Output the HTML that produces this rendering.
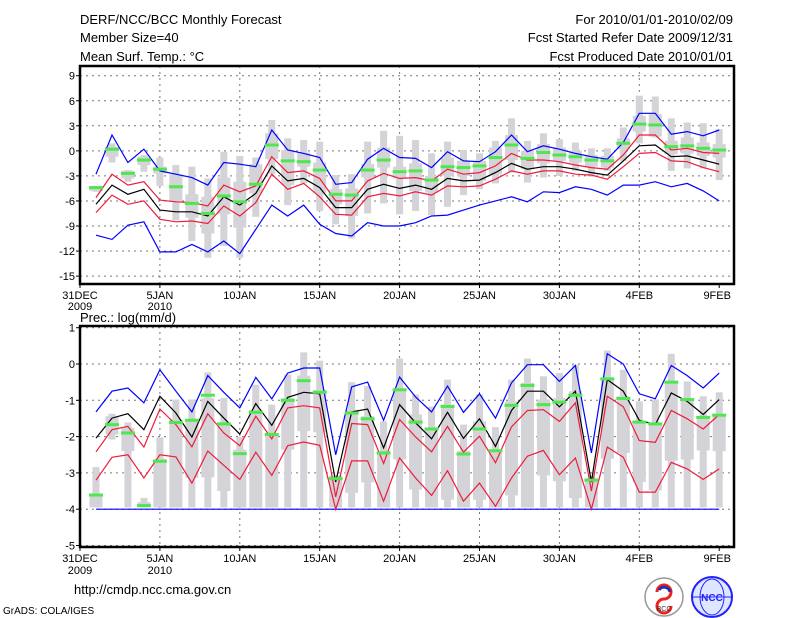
<!DOCTYPE html>
<html><head><meta charset="utf-8">
<style>
html,body{margin:0;padding:0;background:#fff;}
svg{display:block;font-family:"Liberation Sans",sans-serif;}
</style></head>
<body>
<svg id="chart" width="800" height="618" viewBox="0 0 800 618" xmlns="http://www.w3.org/2000/svg">
<rect x="0" y="0" width="800" height="618" fill="#fff"/>
<g font-size="13" fill="#000">
<text x="80" y="24">DERF/NCC/BCC Monthly Forecast</text>
<text x="80" y="42">Member Size=40</text>
<text x="80" y="61">Mean Surf. Temp.: °C</text>
<text x="733" y="24" text-anchor="end">For 2010/01/01-2010/02/09</text>
<text x="733" y="42" text-anchor="end">Fcst Started Refer Date 2009/12/31</text>
<text x="733" y="61" text-anchor="end">Fcst Produced Date 2010/01/01</text>
<text x="80" y="322">Prec.: log(mm/d)</text>
<text x="74" y="594">http://cmdp.ncc.cma.gov.cn</text>
<text x="3" y="614" font-size="10">GrADS: COLA/IGES</text>
</g>
<g id="top"></g>
<g id="bot"></g>
<g>
<circle cx="664" cy="597" r="19" fill="#fff" stroke="#999" stroke-width="1.5"/>
<path d="M657 592 a7 7 0 1 1 7 7 a7 7 0 1 0 7 7" fill="none" stroke="#e22" stroke-width="3"/>
<path d="M659 590 a6 6 0 0 1 11 2" fill="none" stroke="#23a" stroke-width="3"/>
<text x="664" y="611" font-size="7" text-anchor="middle" fill="#333">BCC</text>
</g>
<g>
<circle cx="712" cy="597" r="20" fill="#dfe6ff" stroke="#22f" stroke-width="2"/>
<ellipse cx="712" cy="597" rx="12" ry="18" fill="none" stroke="#22f"/>
<line x1="693" y1="597" x2="731" y2="597" stroke="#22f"/>
<text x="712" y="601" font-size="10" font-weight="bold" text-anchor="middle" fill="#22f">NCC</text>
</g>
</svg>
<script>
// ---- Temperature panel data (Jan1..Feb9) ----
const tBlueHi=[-2.8,1.9,-1.4,0.2,-2.4,-2.8,-3.2,-4.1,-1.4,-1.6,-1.9,2.5,0.1,-0.3,-0.8,-4,-3.8,-1,0.3,-0.8,-0.9,-2,-0.1,-1.2,-1.3,-0.1,1.9,-0.1,0.6,0.2,-0.3,-0.7,-1,1,4.5,4.5,2,2.3,1.8,2.5];
const tRedHi=[-5.6,-2.8,-4.1,-3.7,-5.9,-6.1,-6.2,-6.6,-4.1,-4.9,-4.2,-0.7,-2.6,-2.4,-3.3,-6,-6,-3.6,-2.7,-3.3,-3.2,-3.6,-2.2,-2.8,-2.6,-1.8,-0.3,-1.1,-1.1,-1.3,-1.7,-2,-2.2,-0.5,1.9,1.9,0.1,0.3,-0.2,-0.3];
const tMean=[-6.4,-4.1,-5.2,-4.6,-7.1,-7.3,-7.3,-7.8,-5.5,-6.5,-5.1,-1.8,-3.6,-3.3,-4.4,-6.8,-6.8,-4.6,-4,-4.5,-4.1,-4.6,-3.3,-3.6,-3.5,-2.6,-1.5,-2.2,-1.9,-1.9,-2.2,-2.6,-2.9,-1.2,0.6,0.7,-0.7,-0.6,-1.1,-1.6];
const tRedLo=[-7.4,-5.3,-6.4,-6,-8.2,-8.5,-8.4,-8.7,-6.6,-7.8,-6.2,-2.8,-4.6,-3.9,-5.5,-7.6,-7.7,-5.5,-5.1,-5.4,-4.9,-5.3,-4.2,-4.3,-4.2,-3.4,-2.4,-2.8,-2.4,-2.4,-2.8,-2.9,-3.4,-1.9,-0.3,-0.2,-1.2,-1.3,-2,-2.5];
const tBlueLo=[-10.1,-10.6,-8.9,-8.5,-12.1,-12.1,-11.2,-12.1,-10.8,-12.3,-9.4,-6.5,-7.8,-6.5,-8.8,-9.9,-10.2,-8.6,-9,-9,-8.6,-7.8,-7.7,-7.1,-6.5,-6,-5.5,-6.1,-4.9,-5,-4.3,-4.6,-5.3,-4.1,-4.1,-3.7,-4.3,-3.9,-4.8,-6];
const tGreen=[-4.4,0.2,-2.7,-1.1,-2.2,-4.3,-6.3,-7.5,-5.4,-6.1,-4,0.7,-1.2,-1.3,-2.3,-5.2,-5.3,-2.3,-1.1,-2.5,-2.4,-3.5,-1.9,-2,-1.8,-0.8,0.7,-0.9,-0.2,-0.5,-0.7,-1.1,-1.2,0.9,3.2,3.1,0.5,0.6,0.3,0.1];
const tMax=[-4.2,0.9,-2.3,-0.5,-0.8,-1.7,-1.9,-3.3,-0.1,-0.6,-0.8,3.7,1.5,1.3,1.1,-2.9,-2.8,1.1,2.4,1.8,1.3,-0.3,1.1,0.1,-0.3,1.2,3.9,1.2,2.1,1.4,1,0.3,0.3,2.8,6.6,6.5,3.9,3.4,3.3,2.6];
const tMin=[-4.9,-1.4,-3.7,-2.5,-4.2,-8.3,-10.8,-12.8,-11.4,-12.8,-7.9,-2.8,-6.5,-3.9,-7.2,-8.8,-10.5,-7.5,-6.3,-7.6,-7.2,-7.7,-6.7,-5.3,-4.6,-3.9,-2.6,-3.8,-3.2,-3,-2.4,-3.1,-2.4,-1.2,0.9,1.6,-2.4,-2.1,-2.1,-3.5];
const tQ3=[-4.3,0.5,-2.4,-0.7,-1.9,-2.8,-5.2,-5.5,-3.2,-3.7,-1.6,2.1,0.1,-0.2,-1.4,-4.6,-4.5,-1.6,0.4,-1.9,-1.5,-3,-0.8,-1.2,-1.2,0.4,1.9,0,0.8,0.4,0,-0.5,-0.6,1.5,4.2,4.4,1.2,1.6,1,0.8];
const tQ1=[-4.8,-0.7,-3.3,-1.7,-2.7,-6,-8,-9.9,-7.6,-9.2,-5.1,-1,-4.1,-1.9,-5,-6.4,-7.8,-3.2,-2,-3.3,-4.8,-5,-3,-3,-3.6,-2.8,-1.1,-2.2,-1.5,-1.2,-1.4,-1.9,-2,0.2,2.3,1.7,-0.4,-0.3,-0.6,-0.8];
const tTicks=[9,6,3,0,-3,-6,-9,-12,-15];
// ---- Precipitation panel data ----
const pBlueHi=[-1.32,-0.75,-0.66,-1.07,-0.16,-0.75,-1.32,-0.32,-0.78,-1.21,-0.37,-0.96,-0.25,-0.11,-0.11,-2.5,-0.63,-0.5,-1.55,-0.36,-0.91,-1.32,-0.61,-1.33,-0.82,-1.49,-0.52,-0.02,-0.02,-0.48,-0.04,-2.45,0.28,0,-0.82,-0.96,-0.04,-0.32,-0.66,-0.25];
const pRedHi=[-2.42,-1.81,-1.72,-2.29,-1.24,-1.67,-2.28,-1.37,-1.9,-2.25,-1.44,-2.06,-1.21,-1.15,-1.21,-3.66,-1.64,-1.67,-2.74,-1.53,-2.01,-2.42,-1.72,-2.43,-1.99,-2.72,-1.73,-1.28,-1.26,-1.58,-1.07,-3.5,-0.89,-1.18,-2.11,-2.16,-1.28,-1.51,-1.79,-1.39];
const pMean=[-2.04,-1.49,-1.37,-1.81,-0.89,-1.35,-2.01,-1.03,-1.49,-1.93,-1.09,-1.69,-0.92,-0.78,-0.82,-3.25,-1.32,-1.24,-2.31,-1.12,-1.62,-2.06,-1.33,-2.05,-1.51,-2.27,-1.28,-0.75,-0.75,-1.18,-0.75,-3.25,-0.43,-0.75,-1.55,-1.67,-0.8,-1.03,-1.39,-0.98];
const pRedLo=[-3.2,-2.57,-2.5,-3.14,-2.5,-2.56,-3.28,-2.4,-2.79,-3.18,-2.43,-3.07,-2.25,-2.15,-2.24,-4,-2.67,-2.67,-3.78,-2.59,-3.14,-3.62,-2.94,-3.78,-3.28,-3.92,-3.14,-2.54,-2.38,-3.05,-2.59,-4,-2.29,-2.57,-3.53,-3.53,-2.71,-2.89,-3.18,-2.89];
const pBlueLo=[-4,-4,-4,-4,-4,-4,-4,-4,-4,-4,-4,-4,-4,-4,-4,-4,-4,-4,-4,-4,-4,-4,-4,-4,-4,-4,-4,-4,-4,-4,-4,-4,-4,-4,-4,-4,-4,-4,-4,-4];
const pGreen=[-3.61,-1.67,-1.9,-3.9,-2.68,-1.61,-1.55,-0.86,-1.65,-2.47,-1.33,-1.94,-1,-0.46,-0.78,-3.16,-1.35,-1.51,-2.45,-0.71,-1.6,-1.79,-1.17,-2.48,-1.79,-2.39,-1.14,-0.59,-1.12,-1.05,-0.86,-3.2,-0.41,-0.95,-1.6,-1.65,-0.5,-0.98,-1.47,-1.41];
const pMax=[-2.84,-1.37,-1.61,-3.69,-2.02,-0.98,-0.98,-0.23,-0.94,-2.01,-0.57,-1.12,-0.29,0.32,0.09,-3.07,-0.5,-0.61,-1.58,0.15,-0.84,-1.17,-0.43,-1.67,-0.84,-1.74,-0.43,0.15,-0.34,-0.25,-0.02,-3.09,0.37,-0.16,-1.03,-0.98,0.28,-0.48,-0.89,-0.78];
const pMin=[-3.95,-2.08,-3.95,-3.95,-3.95,-3.95,-3.95,-3.95,-3.95,-3.95,-3.95,-3.95,-3.95,-3.95,-3.95,-3.95,-3.95,-3.95,-3.95,-3.95,-3.95,-3.95,-3.95,-3.95,-3.95,-3.95,-3.95,-3.95,-3.95,-3.95,-3.95,-3.95,-3.95,-3.95,-3.95,-3.95,-3.95,-3.95,-3.95,-3.95];
const pQ3=[-3.6,-1.44,-1.76,-3.81,-2.61,-1.53,-1.53,-0.94,-1.62,-2.36,-1.26,-1.9,-0.94,-0.32,-0.71,-3.07,-1.26,-1.44,-2.4,-0.71,-1.39,-1.76,-1.12,-2.4,-1.58,-2.39,-1.03,-0.52,-0.98,-0.94,-0.75,-3.15,-0.39,-0.89,-1.62,-1.62,-0.48,-0.98,-1.49,-1.37];
const pQ1=[-3.95,-1.94,-2.4,-3.95,-3.95,-3.95,-3.14,-3.12,-3.5,-3.95,-3.95,-3.95,-2.36,-1.85,-1.88,-3.95,-3.55,-3.26,-3.95,-2.63,-3.46,-3.95,-3.74,-3.95,-3.74,-3.95,-3.62,-3.95,-3.07,-3.23,-3.69,-3.95,-2.61,-2.45,-3.25,-3.48,-2.66,-2.63,-2.38,-2.4];
const pTicks=[1,0,-1,-2,-3,-4,-5];
// ---- X axis ----
const xTickDays=[0,5,10,15,20,25,30,35,40];
const xTickLabels=["31DEC","5JAN","10JAN","15JAN","20JAN","25JAN","30JAN","4FEB","9FEB"];

const NS="http://www.w3.org/2000/svg";
const X0=80, DAY=15.98, XR=734;
function xDay(d){return X0+d*DAY;}
function mk(tag,attrs,parent){const e=document.createElementNS(NS,tag);for(const k in attrs)e.setAttribute(k,attrs[k]);parent.appendChild(e);return e;}

function panel(g,top,bot,vTop,yTopPix,pxPerUnit,ticks,series,gray,green,showYear,prefix){
  const yv=v=>yTopPix+(vTop-v)*pxPerUnit;
  // grid
  ticks.forEach(t=>{const l=mk('line',{x1:X0,x2:XR,y1:yv(t),y2:yv(t),stroke:'#777','stroke-dasharray':'2,4','stroke-width':1},g);
    
    
    const tx=mk('text',{x:75,y:yv(t)+4,'font-size':11,'text-anchor':'end'},g);tx.textContent=t;
    
    
    mk('line',{x1:X0-4,x2:X0,y1:yv(t),y2:yv(t),stroke:'#000'},g);});
  xTickDays.forEach((d,i)=>{const x=xDay(d);
    if(i>0&&i<xTickDays.length-1){const l=mk('line',{x1:x,x2:x,y1:top,y2:bot,stroke:'#777','stroke-dasharray':'2,4'},g);
      
      }
    mk('line',{x1:x,x2:x,y1:bot,y2:bot+4,stroke:'#000'},g);
    const tx=mk('text',{x:i==xTickDays.length-1?x-2:x,y:bot+15,'font-size':11,'text-anchor':'middle'},g);tx.textContent=xTickLabels[i];
    
    });
  if(showYear){[[0,"2009"],[5,"2010"]].forEach(a=>{const tx=mk('text',{x:xDay(a[0]),y:bot+27,'font-size':11,'text-anchor':'middle'},g);tx.textContent=a[1];
    
    });}
  // gray boxes
  for(let i=0;i<gray.max.length;i++){const x=xDay(i+1);
    const w=mk('rect',{x:x-3.5,width:7,y:yv(gray.max[i]),height:Math.max(1,yv(gray.min[i])-yv(gray.max[i])),fill:'#d3d3d8'},g);
    
    
    const b=mk('rect',{x:x-6.5,width:13,y:yv(gray.q3[i]),height:Math.max(1,yv(gray.q1[i])-yv(gray.q3[i])),fill:'#d3d3d8'},g);
    
    }
  // lines
  series.forEach(s=>{const pts=s.data.map((v,i)=>xDay(i+1).toFixed(1)+','+yv(v).toFixed(1)).join(' ');
    const p=mk('polyline',{points:pts,fill:'none',stroke:s.color,'stroke-width':1.2},g);
    
    });
  // green markers
  green.forEach((v,i)=>{const r=mk('rect',{x:xDay(i+1)-7,y:yv(v)-1.5,width:14,height:3,fill:'#4ee84e'},g);
    
    });
  const f=mk('rect',{x:X0,y:top,width:XR-X0,height:bot-top,fill:'none',stroke:'#000','stroke-width':2.5},g);
  
  
}
panel(document.getElementById('top'),66,284,9,75.7,8.35,tTicks,
 [{data:tBlueLo,color:'#0000ff',name:'temp-blue-lower-line'},{data:tBlueHi,color:'#0000ff',name:'temp-blue-upper-line'},
  {data:tRedLo,color:'#ee1c3c',name:'temp-red-lower-line'},{data:tRedHi,color:'#ee1c3c',name:'temp-red-upper-line'},
  {data:tMean,color:'#000',name:'temp-ensemble-mean-line'}],
 {max:tMax,min:tMin,q3:tQ3,q1:tQ1},tGreen,false,'temp');
panel(document.getElementById('bot'),326,547,1,327.7,36.3,pTicks,
 [{data:pBlueLo,color:'#0000ff',name:'prec-blue-lower-line'},{data:pBlueHi,color:'#0000ff',name:'prec-blue-upper-line'},
  {data:pRedLo,color:'#ee1c3c',name:'prec-red-lower-line'},{data:pRedHi,color:'#ee1c3c',name:'prec-red-upper-line'},
  {data:pMean,color:'#000',name:'prec-ensemble-mean-line'}],
 {max:pMax,min:pMin,q3:pQ3,q1:pQ1},pGreen,true,'prec');
// year labels for top panel
[[0,"2009"],[5,"2010"]].forEach(a=>{const t=document.createElementNS(NS,'text');t.setAttribute('x',xDay(a[0]));t.setAttribute('y',310);t.setAttribute('font-size',11);t.setAttribute('text-anchor','middle');t.textContent=a[1];
 
 
 document.getElementById('top').appendChild(t);});
</script>
</body></html>
